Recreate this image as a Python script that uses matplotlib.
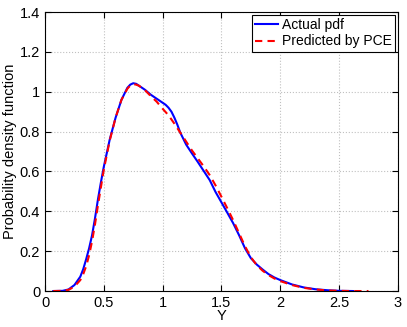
import matplotlib
matplotlib.use("Agg")
import matplotlib.pyplot as plt

plt.rcParams['font.family'] = ['Liberation Sans', 'DejaVu Sans']

# actual pdf
y_act = [0.07, 0.15, 0.2, 0.25, 0.3, 0.325, 0.35, 0.375, 0.4, 0.425, 0.45, 0.475,
         0.5, 0.55, 0.6, 0.65, 0.7, 0.725, 0.75, 0.775, 0.8, 0.85, 0.9, 0.95, 1.0,
         1.025, 1.05, 1.075, 1.1, 1.125, 1.15, 1.2, 1.25, 1.3, 1.35, 1.4, 1.45,
         1.5, 1.55, 1.6, 1.65, 1.7, 1.75, 1.8, 1.85, 1.9, 1.95, 2.0, 2.1, 2.2,
         2.3, 2.4, 2.5, 2.62]
pdf_act = [0, 0.001, 0.008, 0.03, 0.072, 0.11, 0.16, 0.215, 0.28, 0.365, 0.46,
           0.545, 0.624, 0.76, 0.87, 0.96, 1.02, 1.036, 1.043, 1.04, 1.03, 1.01,
           0.985, 0.965, 0.945, 0.935, 0.92, 0.9, 0.87, 0.835, 0.795, 0.735,
           0.69, 0.647, 0.602, 0.557, 0.497, 0.445, 0.393, 0.34, 0.28, 0.215,
           0.165, 0.133, 0.108, 0.085, 0.068, 0.055, 0.033, 0.018, 0.009, 0.004,
           0.001, 0]

# PCE prediction
y_pce = [0.07, 0.15, 0.2, 0.25, 0.3, 0.325, 0.35, 0.375, 0.4, 0.425, 0.45, 0.475,
         0.5, 0.55, 0.6, 0.65, 0.7, 0.725, 0.75, 0.775, 0.8, 0.85, 0.9, 0.95, 1.0,
         1.05, 1.1, 1.15, 1.2, 1.25, 1.3, 1.35, 1.4, 1.45, 1.5, 1.55, 1.6, 1.65,
         1.7, 1.75, 1.8, 1.85, 1.9, 1.95, 2.0, 2.1, 2.2, 2.3, 2.4, 2.5, 2.6, 2.75]
pdf_pce = [0, 0.001, 0.006, 0.022, 0.055, 0.085, 0.125, 0.18, 0.25, 0.335, 0.43,
           0.52, 0.61, 0.755, 0.87, 0.96, 1.015, 1.032, 1.038, 1.036, 1.03, 1.008,
           0.978, 0.95, 0.915, 0.882, 0.84, 0.795, 0.75, 0.705, 0.665, 0.625,
           0.582, 0.53, 0.473, 0.415, 0.355, 0.29, 0.225, 0.17, 0.13, 0.102, 0.08,
           0.063, 0.05, 0.03, 0.016, 0.008, 0.003, 0.001, 0.0, 0.0]

fig = plt.figure(figsize=(4.07, 3.27), dpi=100)
ax = fig.add_axes([0.1106, 0.110, 0.867, 0.853])

ax.plot(y_act, pdf_act, color='blue', lw=1.5, label='Actual pdf')
ax.plot(y_pce, pdf_pce, color='red', lw=1.5, ls=(0, (3.5, 2.5)), label='Predicted by PCE')

ax.set_xlim(0, 3)
ax.set_ylim(0, 1.4)
ax.set_xticks([0, 0.5, 1, 1.5, 2, 2.5, 3])
ax.set_xticklabels(['0', '0.5', '1', '1.5', '2', '2.5', '3'])
ax.set_yticks([0, 0.2, 0.4, 0.6, 0.8, 1, 1.2, 1.4])
ax.set_yticklabels(['0', '0.2', '0.4', '0.6', '0.8', '1', '1.2', '1.4'])
ax.tick_params(direction='in', labelsize=10.5, length=4, top=True, right=True)
ax.grid(True, ls=':', color='#c0c0c0', lw=0.8)
for s in ax.spines.values():
    s.set_linewidth(0.8)

ax.set_xlabel('Y', fontsize=10.5, labelpad=-1)
ax.set_ylabel('Probability density function', fontsize=10.5, labelpad=2)

leg = ax.legend(loc='upper right', fontsize=10, handlelength=1.6, fancybox=False,
                framealpha=1, edgecolor='black', borderaxespad=0.2,
                handletextpad=0.3, borderpad=0.25, labelspacing=0.15)
leg.get_frame().set_linewidth(0.8)

fig.savefig('out.png', dpi=100)
